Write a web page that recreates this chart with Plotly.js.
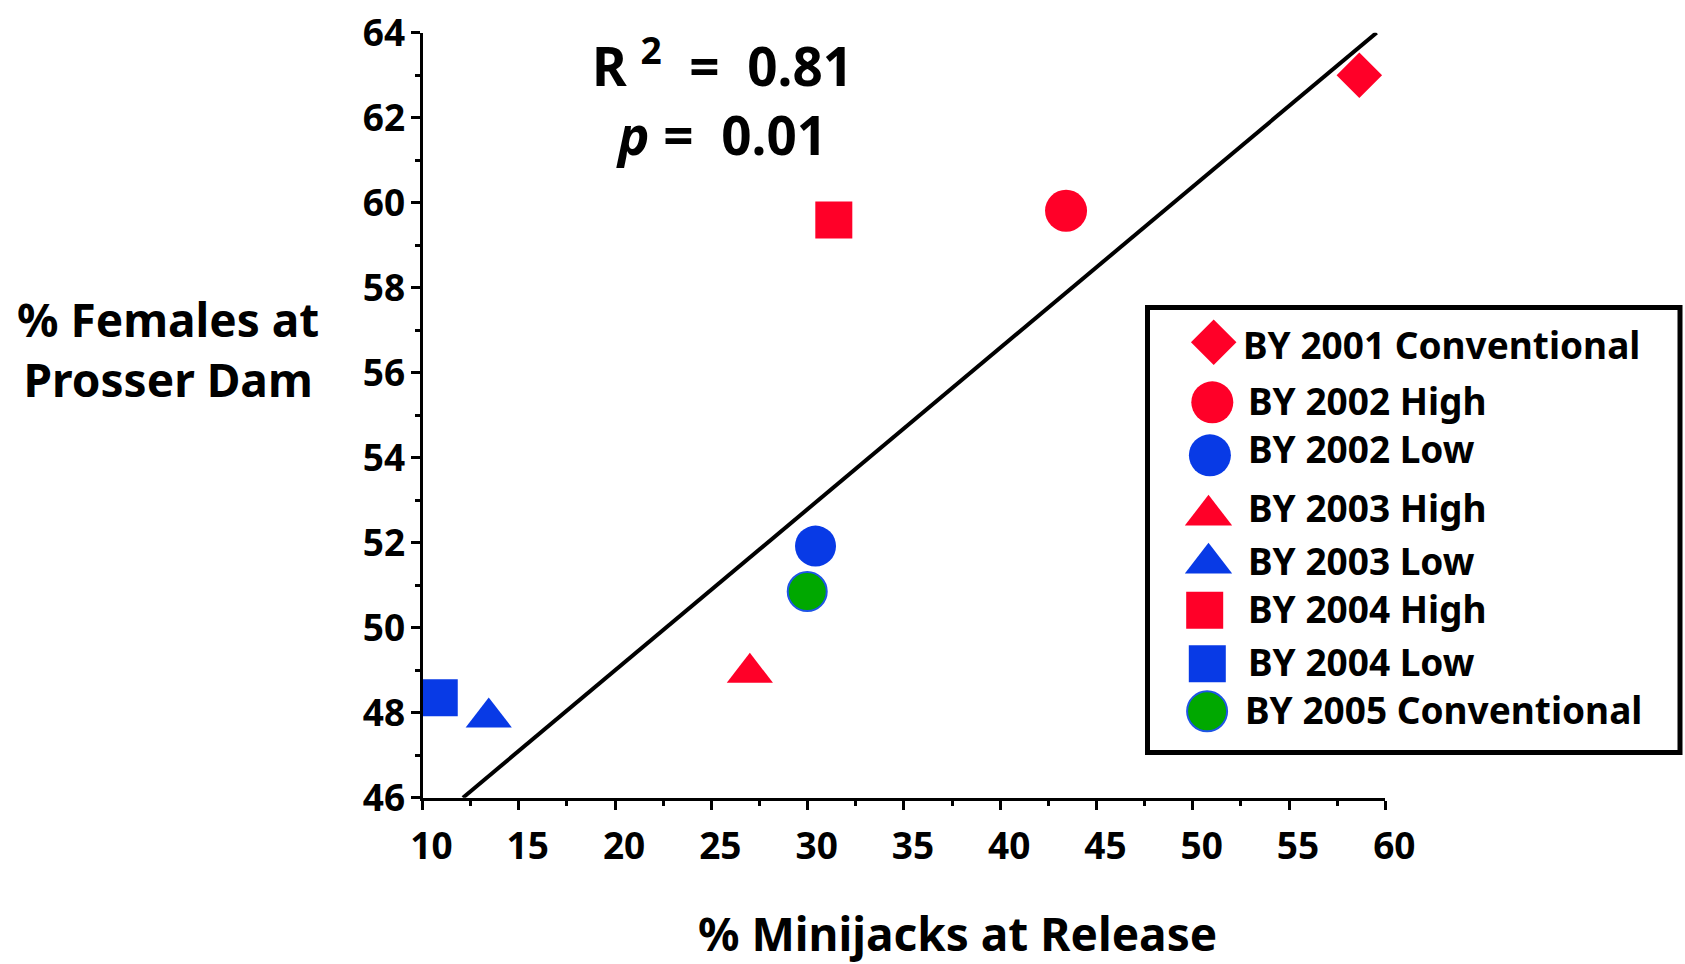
<!DOCTYPE html>
<html>
<head>
<meta charset="utf-8">
<script src="https://cdn.plot.ly/plotly-3.0.1.min.js"></script>
<style>
html,body{margin:0;padding:0;background:#ffffff;}
#chart{width:1685px;height:964px;}
</style>
</head>
<body>
<div id="chart"></div>
<script>
// ---- data ----
const seriesNames = ['BY 2001 Conventional','BY 2002 High','BY 2002 Low','BY 2003 High','BY 2003 Low','BY 2004 High','BY 2004 Low','BY 2005 Conventional'];
const minijacksPct = [58.65, 43.42, 30.41, 27.0, 13.44, 31.36, 10.87, 29.98];
const femalesPct   = [63.0, 59.81, 51.92, 48.94, 47.89, 59.59, 48.35, 50.85];
const fitX = [12.1, 59.55];
const fitY = [46.0, 64.0];
const xTickVals = [10,15,20,25,30,35,40,45,50,55,60];
const yTickVals = [46,48,50,52,54,56,58,60,62,64];
const statText = 'R\u00A0<sup>2</sup>\u00A0\u00A0=\u00A0\u00A00.81<br><i>p</i>\u00A0=\u00A0\u00A00.01';
const xTitleText = '% Minijacks at Release';
const yTitleText = '% Females at<br>Prosser Dam';

// ---- styles ----
const RED = '#FF0028', BLUE = '#083AE6', GREEN = '#00A800';
const symbols = ['diamond','circle','circle','triangle-up','triangle-up','square','square','circle'];
const colors  = [RED, RED, BLUE, RED, BLUE, RED, BLUE, GREEN];
const sizes   = [35, 42, 41, 40, 40, 37, 37, 39];
const lineCols = ['rgba(0,0,0,0)','rgba(0,0,0,0)','rgba(0,0,0,0)','rgba(0,0,0,0)','rgba(0,0,0,0)','rgba(0,0,0,0)','rgba(0,0,0,0)', '#1E55E6'];
const lineWs  = [0,0,0,0,0,0,0,2];
const FONT = 'Noto Sans';

// legend layout (pixel canvas coords)
const legMarkX = [1213.7, 1212.3, 1209.9, 1208.5, 1208.5, 1204.7, 1207.3, 1207.1];
const legMarkY = [342.3, 402.3, 455.3, 515.3, 563.2, 610.2, 663.7, 711.3];
const legSizes = [35, 42, 42, 41, 41, 37, 37, 40];
const legTextX = [1241, 1246, 1246, 1246, 1246, 1246, 1246, 1243];
const legTextY = [344.5, 400.5, 448.7, 507.3, 560.7, 608, 661.3, 709.7];

const W = 1685, H = 964;
const px0 = 422.5, px1 = 1385.3, py46 = 797.7, py64 = 32.7;

const traces = [];
traces.push({
  x: fitX, y: fitY, mode: 'lines', type: 'scatter', name: 'fit',
  line: {color: '#000', width: 4}, showlegend: false, hoverinfo: 'skip',
  xaxis: 'x', yaxis: 'y'
});
for (let i = 0; i < seriesNames.length; i++) {
  traces.push({
    x: [minijacksPct[i]], y: [femalesPct[i]], type: 'scatter', mode: 'markers',
    name: seriesNames[i], showlegend: false, cliponaxis: false,
    marker: {symbol: symbols[i], color: colors[i], size: sizes[i], opacity: 1,
             line: {color: lineCols[i], width: lineWs[i]}},
    xaxis: 'x', yaxis: 'y'
  });
}
// custom legend markers
traces.push({
  x: legMarkX, y: legMarkY, type: 'scatter', mode: 'markers', showlegend: false,
  cliponaxis: false, hoverinfo: 'skip',
  marker: {symbol: symbols, color: colors, size: legSizes, opacity: 1,
           line: {color: lineCols, width: lineWs}},
  xaxis: 'x2', yaxis: 'y2'
});

const annotations = [];
const txt = (text, x, y, size, xanchor) => ({
  text: text, x: x, y: y, xref: 'x2', yref: 'y2', showarrow: false,
  xanchor: xanchor || 'center', yanchor: 'middle', align: 'center',
  font: {family: FONT, size: size, color: '#000', weight: 700}
});
annotations.push(txt(statText, 722, 97, 53));
annotations.push(txt(xTitleText, 957, 933, 46));
annotations.push(txt(yTitleText, 168, 349, 46));
for (let i = 0; i < seriesNames.length; i++) {
  annotations.push(txt(seriesNames[i], legTextX[i], legTextY[i], 37, 'left'));
}

const axisCommon = {
  showgrid: false, zeroline: false, showline: true, linecolor: '#000', linewidth: 3,
  ticks: 'outside', ticklen: 9, tickwidth: 3, tickcolor: '#000',
  tickfont: {family: FONT, size: 37, color: '#000', weight: 700},
  automargin: false, fixedrange: true
};

const layout = {
  width: W, height: H,
  margin: {l: 0, r: 0, t: 0, b: 0, pad: 0},
  paper_bgcolor: '#fff', plot_bgcolor: 'rgba(0,0,0,0)',
  showlegend: false,
  xaxis: Object.assign({}, axisCommon, {
    domain: [px0 / W, px1 / W], range: [10, 60], tickvals: xTickVals,
    ticklabelstandoff: 5, ticklabelshift: 9,
    minor: {dtick: 2.5, tick0: 10, ticks: 'outside', ticklen: 5, tickwidth: 3, tickcolor: '#000', showgrid: false},
    anchor: 'y'
  }),
  yaxis: Object.assign({}, axisCommon, {
    domain: [(H - py46) / H, (H - py64) / H], range: [46, 64], tickvals: yTickVals,
    ticklabelstandoff: -2,
    minor: {dtick: 1, tick0: 46, ticks: 'outside', ticklen: 5, tickwidth: 3, tickcolor: '#000', showgrid: false},
    anchor: 'x'
  }),
  xaxis2: {domain: [0, 1], range: [0, W], visible: false, anchor: 'y2', fixedrange: true},
  yaxis2: {domain: [0, 1], range: [H, 0], visible: false, anchor: 'x2', fixedrange: true},
  shapes: [{
    type: 'rect', xref: 'x2', yref: 'y2', x0: 1147.5, x1: 1680, y0: 307.5, y1: 752.5,
    line: {color: '#000', width: 5}, fillcolor: 'rgba(0,0,0,0)', layer: 'above'
  }],
  annotations: annotations
};

Plotly.newPlot('chart', traces, layout, {displayModeBar: false, staticPlot: true});
</script>
</body>
</html>
